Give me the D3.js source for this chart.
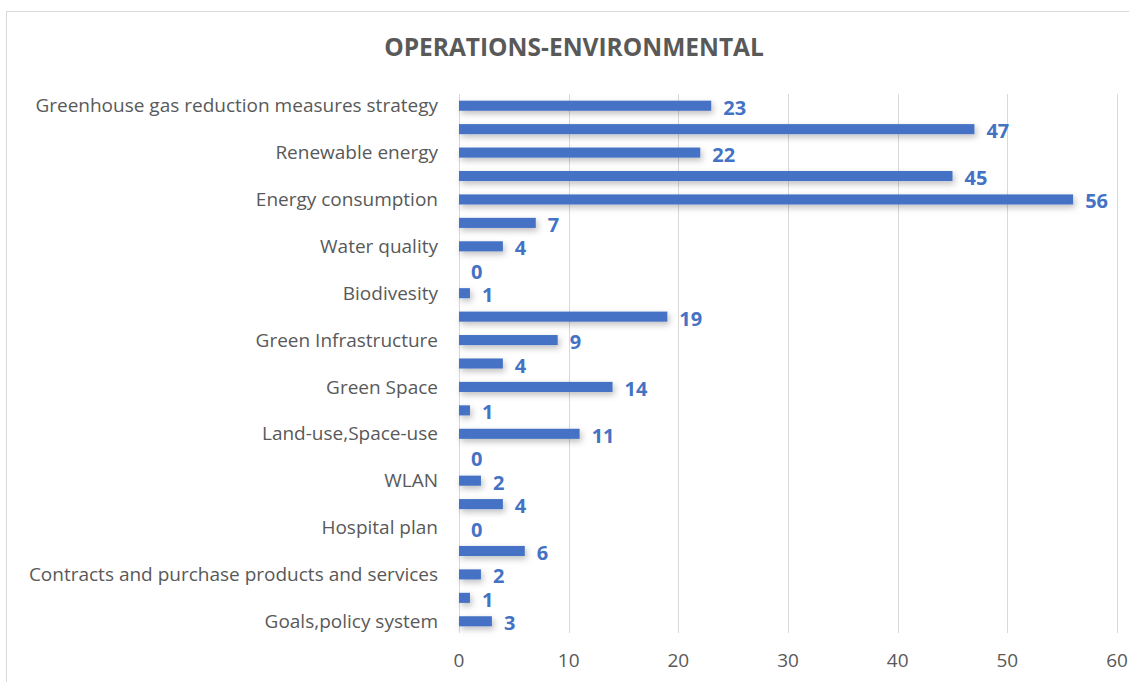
<!DOCTYPE html>
<html>
<head>
<meta charset="utf-8">
<script src="https://cdn.jsdelivr.net/npm/d3@7"></script>
<style>
  body { margin: 0; background: #fff; }
  text { font-family: "Open Sans", "Noto Sans", sans-serif; }
</style>
</head>
<body>
<div id="chart"></div>
<script>
////////////////////////////////////////////////////////////////////////
// Data (top to bottom as drawn); Excel only shows every other label

let categories = [
  "Greenhouse gas reduction measures strategy", "",
  "Renewable energy", "",
  "Energy consumption", "",
  "Water quality", "",
  "Biodivesity", "",
  "Green Infrastructure", "",
  "Green Space", "",
  "Land-use,Space-use", "",
  "WLAN", "",
  "Hospital plan", "",
  "Contracts and purchase products and services", "",
  "Goals,policy system"
];
let values = [23, 47, 22, 45, 56, 7, 4, 0, 1, 19, 9, 4, 14, 1, 11, 0, 2, 4, 0, 6, 2, 1, 3];
let xTicks = [0, 10, 20, 30, 40, 50, 60];
let title = "OPERATIONS-ENVIRONMENTAL";

////////////////////////////////////////////////////////////////////////
// Setup

let svgW = 1129, svgH = 682;
let plotLeft = 459, plotRight = 1117, plotTop = 94, plotBottom = 633;
let rows = categories.map(function(c, i) { return {id: i, cat: c, value: values[i]}; });

let svg = d3.select("#chart").append("svg")
  .attr("width", svgW)
  .attr("height", svgH);

let defs = svg.append("defs");
let shadow = defs.append("filter").attr("id", "shadow")
  .attr("x", "-10%").attr("y", "-80%").attr("width", "130%").attr("height", "300%");
shadow.append("feDropShadow")
  .attr("dx", 2).attr("dy", 3).attr("stdDeviation", 3)
  .attr("flood-color", "#000").attr("flood-opacity", 0.25);

// chart frame
svg.append("rect")
  .attr("x", 6.5).attr("y", 11.5)
  .attr("width", svgW + 10).attr("height", svgH + 10)
  .attr("fill", "none").attr("stroke", "#d9d9d9");

let xScale = d3.scaleLinear().domain([0, 60]).range([plotLeft, plotRight]);
let yScale = d3.scaleBand().domain(rows.map(function(d) { return d.id; }))
  .range([plotTop, plotBottom]).paddingInner(0.57).paddingOuter(0.285);

// gridlines
svg.append("g").selectAll("line")
  .data(xTicks)
  .enter().append("line")
  .attr("x1", function(d) { return Math.round(xScale(d)) + 0.5; })
  .attr("x2", function(d) { return Math.round(xScale(d)) + 0.5; })
  .attr("y1", plotTop).attr("y2", plotBottom)
  .attr("stroke", "#d9d9d9").attr("stroke-width", 1);

// x tick labels
svg.append("g").selectAll("text")
  .data(xTicks)
  .enter().append("text")
  .attr("x", function(d) { return xScale(d); })
  .attr("y", 667)
  .attr("text-anchor", "middle")
  .attr("font-size", 19)
  .attr("fill", "#595959")
  .text(function(d) { return d; });

// category labels
svg.append("g").selectAll("text")
  .data(rows)
  .enter().append("text")
  .attr("x", 438)
  .attr("y", function(d) { return yScale(d.id) + yScale.bandwidth() / 2; })
  .attr("dy", "0.35em")
  .attr("text-anchor", "end")
  .attr("font-size", 19)
  .attr("fill", "#595959")
  .text(function(d) { return d.cat; });

// bars
svg.append("g").attr("filter", "url(#shadow)").selectAll("rect")
  .data(rows)
  .enter().append("rect")
  .attr("x", xScale(0))
  .attr("y", function(d) { return yScale(d.id); })
  .attr("width", function(d) { return xScale(d.value) - xScale(0); })
  .attr("height", yScale.bandwidth())
  .attr("fill", "#4472c4");

// value labels
svg.append("g").selectAll("text")
  .data(rows)
  .enter().append("text")
  .attr("x", function(d) { return xScale(d.value) + 12; })
  .attr("y", function(d) { return yScale(d.id) + yScale.bandwidth() / 2 + 2; })
  .attr("dy", "0.35em")
  .attr("font-size", 20)
  .attr("font-weight", "bold")
  .attr("fill", "#4472c4")
  .text(function(d) { return d.value; });

// title
svg.append("text")
  .attr("x", 574).attr("y", 56)
  .attr("text-anchor", "middle")
  .attr("font-size", 24.5)
  .attr("font-weight", "bold")
  .attr("fill", "#595959")
  .text(title);
</script>
</body>
</html>
